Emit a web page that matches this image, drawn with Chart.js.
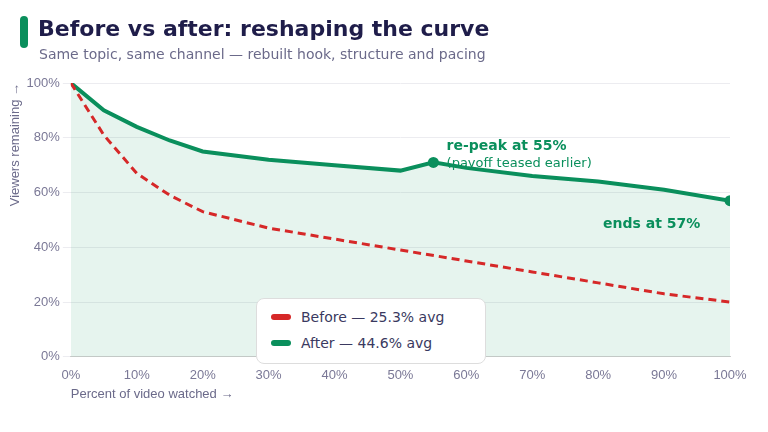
<!DOCTYPE html>
<html>
<head>
<meta charset="utf-8">
<script src="https://cdn.jsdelivr.net/npm/chart.js@4/dist/chart.umd.min.js"></script>
<style>
  body { margin:0; background:#fff; font-family:"DejaVu Sans", sans-serif; }
  #wrap { position:relative; width:768px; height:432px; }
  .bar { position:absolute; left:20px; top:16px; width:8px; height:32px; border-radius:4px; background:#0a8f5c; }
  h1 { position:absolute; left:38px; top:16px; margin:0; font-size:22px; color:#1f1d4a; font-weight:bold; }
  .sub { position:absolute; left:39px; top:46px; font-size:14px; color:#6b6a8a; }
  #c { position:absolute; left:0; top:0; }
  .legend { position:absolute; left:256px; top:298px; width:228px; height:64px; background:#fff; border:1px solid #ddd; border-radius:8px; font-size:14px; color:#3a3960; }
  .legend div { position:absolute; left:14px; display:flex; align-items:center; }
  .legend span.sw { display:inline-block; width:20px; height:6px; border-radius:3px; margin-right:10px; }
</style>
</head>
<body>
<div id="wrap">
  <canvas id="c" width="768" height="432"></canvas>
  <div class="bar"></div>
  <h1>Before vs after: reshaping the curve</h1>
  <div class="sub">Same topic, same channel — rebuilt hook, structure and pacing</div>
  <div class="legend">
    <div style="top:10px"><span class="sw" style="background:#d62828"></span>Before — 25.3% avg</div>
    <div style="top:36px"><span class="sw" style="background:#0a8f5c"></span>After — 44.6% avg</div>
  </div>
</div>
<script>
var beforeX = [0, 5, 10, 15, 20, 30, 40, 50, 60, 70, 80, 90, 100];
var beforeY = [100, 81, 67, 59, 53, 47, 43, 39, 35, 31, 27, 23, 20];
var afterX = [0, 5, 10, 15, 20, 30, 40, 50, 55, 60, 70, 80, 90, 100];
var afterY = [100, 90, 84, 79, 75, 72, 70, 68, 71, 69, 66, 64, 61, 57];

function pts(xs, ys) { return xs.map(function (x, i) { return {x: x, y: ys[i]}; }); }

var notes = {
  id: 'notes',
  afterDatasetsDraw: function (chart) {
    var ctx = chart.ctx, xs = chart.scales.x, ys = chart.scales.y;
    ctx.save();
    ctx.fillStyle = '#0a8f5c';
    ctx.font = 'bold 14px "DejaVu Sans"';
    ctx.fillText('re-peak at 55%', xs.getPixelForValue(57), ys.getPixelForValue(75.5));
    ctx.font = '13px "DejaVu Sans"';
    ctx.fillText('(payoff teased earlier)', xs.getPixelForValue(57), ys.getPixelForValue(69.5));
    ctx.font = 'bold 14px "DejaVu Sans"';
    ctx.textAlign = 'right';
    ctx.fillText('ends at 57%', xs.getPixelForValue(95.5), ys.getPixelForValue(47));
    ctx.restore();
  }
};

new Chart(document.getElementById('c'), {
  type: 'line',
  data: {
    datasets: [{
      label: 'After',
      data: pts(afterX, afterY),
      borderColor: '#0a8f5c',
      backgroundColor: 'rgba(10,143,92,0.1)',
      fill: 'origin',
      borderWidth: 4,
      pointRadius: function (c) { var x = afterX[c.dataIndex]; return (x === 55 || x === 100) ? 5.5 : 0; },
      pointBackgroundColor: '#0a8f5c',
      pointBorderWidth: 0,
      order: 2
    }, {
      label: 'Before',
      data: pts(beforeX, beforeY),
      borderColor: '#d62828',
      borderDash: [8, 5],
      borderWidth: 3,
      pointRadius: 0,
      fill: false,
      order: 1
    }]
  },
  options: {
    responsive: false,
    animation: false,
    layout: { padding: { top: 83, right: 38, left: 8, bottom: 30 } },
    plugins: { legend: { display: false }, tooltip: { enabled: false } },
    scales: {
      x: {
        type: 'linear', min: 0, max: 100,
        ticks: { stepSize: 10, color: '#7a7896', font: { size: 13 }, callback: function (v) { return v + '%'; } },
        grid: { display: false },
        border: { color: '#ccc' },
        title: { display: true, text: 'Percent of video watched →', color: '#6b6a8a', font: { size: 13 }, align: 'start', padding: 0 }
      },
      y: {
        min: 0, max: 100,
        ticks: { stepSize: 20, color: '#7a7896', font: { size: 13 }, callback: function (v) { return v + '%'; } },
        grid: { color: '#ececf0' },
        border: { display: false },
        title: { display: true, text: 'Viewers remaining →', color: '#6b6a8a', font: { size: 13 }, align: 'end', padding: 0 }
      }
    }
  },
  plugins: [notes]
});
</script>
</body>
</html>
